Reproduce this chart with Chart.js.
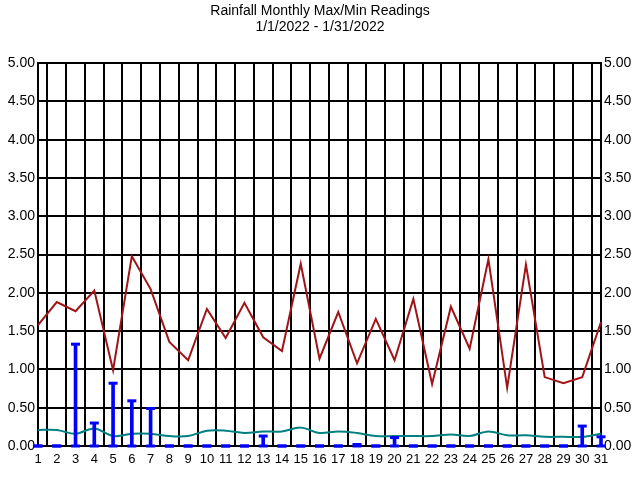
<!DOCTYPE html>
<html>
<head>
<meta charset="utf-8">
<script src="https://cdn.jsdelivr.net/npm/chart.js@4.4.0/dist/chart.umd.min.js"></script>
<style>
  html, body { margin: 0; padding: 0; background: #fff; }
  #wrap { width: 640px; height: 480px; }
</style>
</head>
<body>
<div id="wrap"><canvas id="chart" width="640" height="480"></canvas></div>
<script>
const days = Array.from({ length: 31 }, (_, i) => String(i + 1));

// daily max (red) and average-ish (teal) lines
const maxLine = [1.58, 1.88, 1.76, 2.03, 0.99, 2.48, 2.05, 1.36, 1.12, 1.79, 1.41, 1.87, 1.42, 1.24, 2.38, 1.14,
                 1.75, 1.08, 1.66, 1.12, 1.92, 0.81, 1.82, 1.27, 2.44, 0.76, 2.37, 0.90, 0.82, 0.90, 1.62];
const lowLine = [0.21, 0.21, 0.16, 0.23, 0.13, 0.16, 0.16, 0.13, 0.13, 0.20, 0.20, 0.17, 0.19, 0.19, 0.24, 0.17,
                 0.19, 0.17, 0.13, 0.13, 0.13, 0.13, 0.15, 0.13, 0.19, 0.14, 0.14, 0.12, 0.12, 0.12, 0.16];

// blue min/max range bars
const rangeMax = [0, 0, 1.33, 0.30, 0.82, 0.59, 0.49, 0, 0, 0, 0, 0, 0.13, 0, 0, 0,
                  0, 0.02, 0, 0.11, 0, 0, 0, 0, 0, 0, 0, 0, 0, 0.26, 0.12];
const rangeMin = days.map(() => 0);

const yTicks = { min: 0, max: 5, step: 0.5 };

const font = { family: '"Liberation Sans", Arial, sans-serif' };

const tickOpts = {
  stepSize: yTicks.step,
  color: '#000',
  padding: 3,
  font: { ...font, size: 14 },
  callback: (v) => Number(v).toFixed(2)
};

new Chart(document.getElementById('chart'), {
  data: {
    labels: days,
    datasets: [
      {
        type: 'bar',
        data: rangeMax,
        backgroundColor: '#0000ff',
        barThickness: 3,
        clip: false,
        order: 1
      },
      {
        type: 'line',
        data: rangeMax,
        showLine: false,
        pointStyle: 'line',
        pointRadius: 4.5,
        pointBorderWidth: 3,
        pointBorderColor: '#0000ff',
        clip: false,
        order: 0
      },
      {
        type: 'line',
        data: rangeMin,
        showLine: false,
        pointStyle: 'line',
        pointRadius: 4.5,
        pointBorderWidth: 3,
        pointBorderColor: '#0000ff',
        clip: false,
        order: 0
      },
      {
        type: 'line',
        data: maxLine,
        borderColor: '#a01418',
        borderWidth: 2,
        pointRadius: 0,
        tension: 0,
        order: 3
      },
      {
        type: 'line',
        data: lowLine,
        borderColor: '#008080',
        borderWidth: 2,
        pointRadius: 0,
        tension: 0.35,
        order: 2
      }
    ]
  },
  options: {
    responsive: false,
    animation: false,
    layout: { padding: 0 },
    plugins: {
      legend: { display: false },
      tooltip: { enabled: false },
      title: {
        display: true,
        text: ['Rainfall Monthly Max/Min Readings', '1/1/2022 - 1/31/2022'],
        color: '#000',
        font: { ...font, size: 14, weight: 'normal', lineHeight: 1.15 },
        padding: { top: 3, bottom: 28 }
      }
    },
    scales: {
      x: {
        offset: false,
        grid: { color: '#000', lineWidth: 2, drawTicks: false },
        border: { color: '#000', width: 2 },
        ticks: { color: '#000', padding: 6, maxRotation: 0, autoSkip: false, font: { ...font, size: 13 } },
        afterFit: (s) => { s.height = 34; }
      },
      y: {
        position: 'left',
        min: yTicks.min,
        max: yTicks.max,
        grid: { color: '#000', lineWidth: 2, drawTicks: false },
        border: { color: '#000', width: 2 },
        ticks: tickOpts,
        afterFit: (s) => { s.width = 38; }
      },
      y2: {
        position: 'right',
        min: yTicks.min,
        max: yTicks.max,
        grid: { drawOnChartArea: false, drawTicks: false },
        border: { color: '#000', width: 2 },
        ticks: tickOpts,
        afterFit: (s) => { s.width = 39; }
      }
    }
  }
});
</script>
</body>
</html>
